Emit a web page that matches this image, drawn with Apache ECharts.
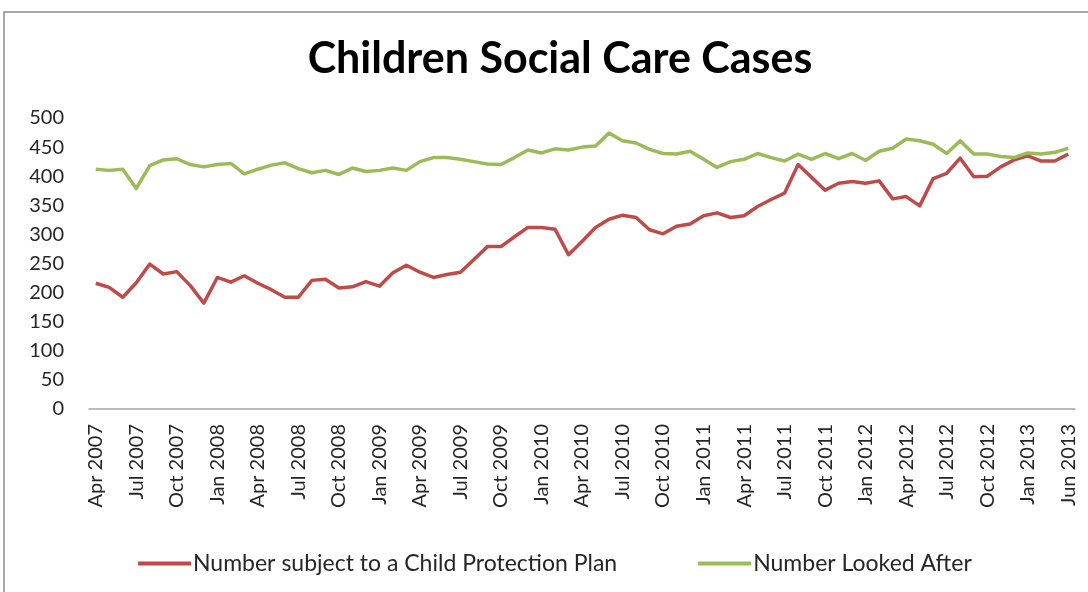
<!DOCTYPE html>
<html>
<head>
<meta charset="utf-8">
<title>Children Social Care Cases</title>
<script src="https://cdn.jsdelivr.net/npm/echarts@6/dist/echarts.min.js"></script>
<style>
  html, body { margin: 0; padding: 0; background: #fff; }
  #chart { width: 1088px; height: 592px; }
</style>
</head>
<body>
<div id="chart"></div>
<script>
// Monthly reporting periods (last few months of 2013 reported bi-monthly)
const months = [
  'Apr 2007','May 2007','Jun 2007','Jul 2007','Aug 2007','Sep 2007','Oct 2007','Nov 2007','Dec 2007',
  'Jan 2008','Feb 2008','Mar 2008','Apr 2008','May 2008','Jun 2008','Jul 2008','Aug 2008','Sep 2008',
  'Oct 2008','Nov 2008','Dec 2008','Jan 2009','Feb 2009','Mar 2009','Apr 2009','May 2009','Jun 2009',
  'Jul 2009','Aug 2009','Sep 2009','Oct 2009','Nov 2009','Dec 2009','Jan 2010','Feb 2010','Mar 2010',
  'Apr 2010','May 2010','Jun 2010','Jul 2010','Aug 2010','Sep 2010','Oct 2010','Nov 2010','Dec 2010',
  'Jan 2011','Feb 2011','Mar 2011','Apr 2011','May 2011','Jun 2011','Jul 2011','Aug 2011','Sep 2011',
  'Oct 2011','Nov 2011','Dec 2011','Jan 2012','Feb 2012','Mar 2012','Apr 2012','May 2012','Jun 2012',
  'Jul 2012','Aug 2012','Sep 2012','Oct 2012','Nov 2012','Dec 2012','Jan 2013','Mar 2013','Apr 2013',
  'Jun 2013'
];

// Number subject to a Child Protection Plan
const protectionPlan = [
  216, 209, 192, 217, 249, 232, 236, 212, 182, 226, 218, 229, 216, 205, 192, 192,
  221, 223, 208, 210, 219, 211, 234, 247, 235, 226, 231, 235, 257, 279, 279, 296,
  312, 312, 309, 265, 288, 312, 326, 333, 329, 308, 301, 314, 318, 332, 337, 329,
  332, 348, 360, 371, 420, 398, 376, 388, 391, 388, 392, 361, 365, 349, 396, 405,
  431, 399, 400, 416, 428, 435, 426, 426, 438
];

// Number Looked After
const lookedAfter = [
  412, 410, 412, 379, 418, 428, 430, 420, 416, 420, 422, 404, 412, 419, 423, 413,
  406, 410, 403, 414, 408, 410, 414, 410, 425, 432, 432, 429, 425, 421, 420, 432,
  445, 440, 447, 445, 450, 452, 474, 461, 457, 446, 439, 438, 443, 429, 415, 425,
  429, 439, 432, 426, 438, 429, 439, 430, 439, 427, 443, 448, 464, 461, 455, 439,
  461, 438, 438, 434, 432, 440, 438, 441, 448
];

const yMin = 0, yMax = 500, yStep = 50;

const chart = echarts.init(document.getElementById('chart'), null, { renderer: 'canvas' });

chart.setOption({
  backgroundColor: '#ffffff',
  animation: false,
  textStyle: { fontFamily: 'Lato, "Open Sans", sans-serif' },
  graphic: [
    {
      type: 'rect',
      shape: { x: 4, y: 12, width: 1100, height: 600 },
      style: { fill: 'none', stroke: '#8c8c8c', lineWidth: 1.5 },
      silent: true
    }
  ],
  title: {
    text: 'Children Social Care Cases',
    left: 555,
    textAlign: 'center',
    top: 33,
    textStyle: {
      fontFamily: 'Lato, sans-serif',
      fontWeight: 'bold',
      fontSize: 43,
      color: '#000'
    }
  },
  legend: {
    left: 133,
    top: 547,
    itemGap: 81,
    itemWidth: 53,
    itemHeight: 4,
    icon: 'rect',
    textStyle: {
      fontFamily: 'Lato, sans-serif',
      fontSize: 23,
      color: '#262626',
      padding: [0, 0, 0, -3]
    },
    data: ['Number subject to a Child Protection Plan', 'Number Looked After']
  },
  grid: {
    left: 89,
    right: 13,
    top: 118,
    bottom: 183,
    containLabel: false
  },
  xAxis: {
    type: 'category',
    data: months,
    boundaryGap: true,
    axisLine: { show: true, lineStyle: { color: '#a6a6a6', width: 1.5 } },
    axisTick: { show: false },
    axisLabel: {
      interval: 2,
      rotate: 90,
      margin: 15,
      fontFamily: 'Lato, sans-serif',
      fontSize: 20,
      color: '#262626'
    },
    splitLine: { show: false }
  },
  yAxis: {
    type: 'value',
    min: yMin,
    max: yMax,
    interval: yStep,
    axisLine: { show: false },
    axisTick: { show: false },
    splitLine: { show: false },
    axisLabel: {
      margin: 25,
      fontFamily: 'Lato, sans-serif',
      fontSize: 20,
      color: '#262626'
    }
  },
  series: [
    {
      name: 'Number subject to a Child Protection Plan',
      type: 'line',
      data: protectionPlan,
      showSymbol: false,
      symbol: 'none',
      color: '#be4b48',
      lineStyle: { color: '#be4b48', width: 3.5, join: 'round' }
    },
    {
      name: 'Number Looked After',
      type: 'line',
      data: lookedAfter,
      showSymbol: false,
      symbol: 'none',
      color: '#9bbb59',
      lineStyle: { color: '#9bbb59', width: 3.5, join: 'round' }
    }
  ]
});
</script>
</body>
</html>
